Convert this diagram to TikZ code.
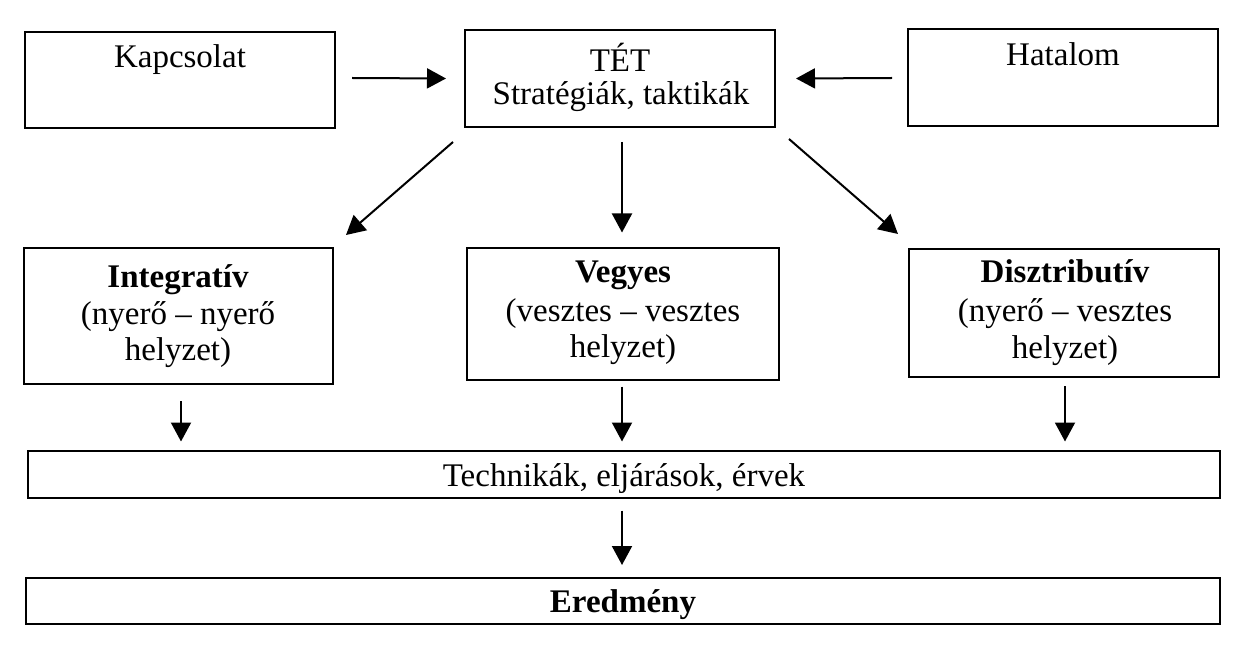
\documentclass[tikz,border=0pt]{standalone}
\usepackage{fontspec}
\setmainfont{Liberation Serif}
\usetikzlibrary{arrows.meta}
\begin{document}
\begin{tikzpicture}[x=1pt,y=-1pt,
  box/.style={draw, line width=2pt, inner sep=0pt},
  txt/.style={anchor=base, inner sep=0pt, font=\fontsize{33}{38}\selectfont},
  ctxt/.style={font=\fontsize{33}{38}\selectfont, text depth=0pt},
  arr/.style={line width=2pt, -{Triangle[length=19pt,width=20pt]}}]
\useasboundingbox (0,0) rectangle (1242,652);
% boxes
\node[box, minimum width=310pt, minimum height=96pt] (kap) at (180,80) {};
\node[box, minimum width=310pt, minimum height=97pt] (tet) at (620,78.5) {};
\node[box, minimum width=310pt, minimum height=97pt] (hat) at (1063,78) {};
\node[box, minimum width=309pt, minimum height=136pt] (integ) at (178.5,316) {};
\node[box, minimum width=312pt, minimum height=131pt] (veg) at (623,314) {};
\node[box, minimum width=310pt, minimum height=128pt] (dis) at (1064,313) {};
\node[box, minimum width=1192pt, minimum height=47pt, ctxt, text height=24pt] (tech) at (624,474) {Technikák, eljárások, érvek};
\node[box, minimum width=1194pt, minimum height=46pt, ctxt, text height=22pt] (ered) at (623,601) {\textbf{Eredmény}};
% texts
\node[txt] (kapt) at (180,68) {Kapcsolat};
\node[txt] (hatt) at (1063,66) {Hatalom};
\node[txt] (tet1) at (620,72) {TÉT};
\node[txt] (tet2) at (621,105) {Stratégiák, taktikák};
\node[txt] (int1) at (178,288) {\textbf{Integratív}};
\node[txt] (int2) at (178,324) {(nyerő – nyerő};
\node[txt] (int3) at (178,360) {helyzet)};
\node[txt] (veg1) at (623,283) {\textbf{Vegyes}};
\node[txt] (veg2) at (623,321) {(vesztes – vesztes};
\node[txt] (veg3) at (623,357) {helyzet)};
\node[txt] (dis1) at (1065,283) {\textbf{Disztributív}};
\node[txt] (dis2) at (1065,322) {(nyerő – vesztes};
\node[txt] (dis3) at (1065,358) {helyzet)};
% arrows
\draw[arr] ([shift={(16,-2)}]kap.east) -- ([shift={(-18,0)}]tet.west);
\draw[arr] ([shift={(-15,0)}]hat.west) -- ([shift={(20,0)}]tet.east);
\draw[arr] ([shift={(-11,14)}]tet.south west) -- ([shift={(12,-12)}]integ.north east);
\draw[arr] ([shift={(2,14)}]tet.south) -- ([shift={(-1,-15)}]veg.north);
\draw[arr] ([shift={(13,11)}]tet.south east) -- ([shift={(-10,-14)}]dis.north west);
\draw[arr] ([shift={(2.5,16)}]integ.south) -- ([shift={(2.5,-8)}]integ.south |- tech.north);
\draw[arr] ([shift={(-1,6)}]veg.south) -- ([shift={(-1,-8)}]veg.south |- tech.north);
\draw[arr] ([shift={(1,8)}]dis.south) -- ([shift={(1,-8)}]dis.south |- tech.north);
\draw[arr] ([shift={(-2,12)}]tech.south) -- ([shift={(-1,-12)}]ered.north);
\end{tikzpicture}
\end{document}
